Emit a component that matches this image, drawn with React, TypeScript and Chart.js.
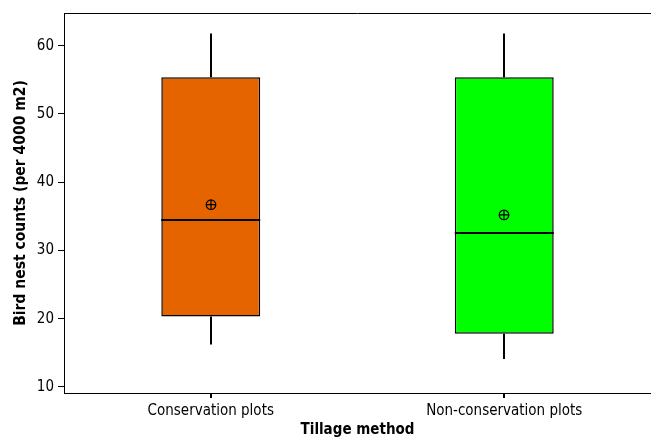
import React, { useEffect, useRef } from "react";
import { Chart, registerables } from "chart.js";

Chart.register(...registerables);

const categories = ["Conservation plots", "Non-conservation plots"];
const whiskerLow = [16.2, 14.1];
const q1 = [20.3, 17.8];
const median = [34.5, 32.6];
const q3 = [55.4, 55.4];
const whiskerHigh = [61.8, 61.8];
const means = [36.7, 35.2];
const boxColors = ["#E66400", "#00FF00"];
const yTicks = [10, 20, 30, 40, 50, 60];

const FONT = "'DejaVu Sans Condensed', 'DejaVu Sans', sans-serif";

const boxPlugin = {
  id: "boxExtras",
  afterDraw(chart: any) {
    const { ctx, scales, chartArea } = chart;
    const xs = scales.x;
    const ys = scales.y;
    const meta = chart.getDatasetMeta(0);
    ctx.save();
    ctx.strokeStyle = "#000";
    ctx.lineWidth = 1;
    ctx.beginPath();
    ctx.moveTo(chartArea.left, chartArea.top + 0.5);
    ctx.lineTo(chartArea.right, chartArea.top + 0.5);
    ctx.stroke();
    categories.forEach((_, i) => {
      const cx = Math.round(xs.getPixelForValue(i));
      const bar = meta.data[i];
      const half = bar.width / 2;
      // x tick mark
      ctx.lineWidth = 2;
      ctx.beginPath();
      ctx.moveTo(cx, chartArea.bottom);
      ctx.lineTo(cx, chartArea.bottom + 5);
      ctx.stroke();
      ctx.beginPath();
      ctx.moveTo(cx, ys.getPixelForValue(whiskerHigh[i]));
      ctx.lineTo(cx, ys.getPixelForValue(q3[i]));
      ctx.moveTo(cx, ys.getPixelForValue(q1[i]));
      ctx.lineTo(cx, ys.getPixelForValue(whiskerLow[i]));
      ctx.stroke();
      const my = Math.round(ys.getPixelForValue(median[i]));
      ctx.beginPath();
      ctx.moveTo(bar.x - half, my);
      ctx.lineTo(bar.x + half, my);
      ctx.stroke();
      const py = ys.getPixelForValue(means[i]);
      ctx.lineWidth = 1.2;
      ctx.beginPath();
      ctx.arc(cx, py, 4.8, 0, Math.PI * 2);
      ctx.moveTo(cx - 5, py);
      ctx.lineTo(cx + 5, py);
      ctx.moveTo(cx, py - 5);
      ctx.lineTo(cx, py + 5);
      ctx.stroke();
    });
    ctx.restore();
  },
};

export default function App() {
  const ref = useRef<HTMLCanvasElement>(null);
  useEffect(() => {
    if (!ref.current) return;
    const chart = new Chart(ref.current, {
      type: "bar",
      data: {
        labels: categories,
        datasets: [
          {
            data: categories.map((_, i) => [q1[i], q3[i]]) as any,
            backgroundColor: boxColors,
            borderColor: "#000",
            borderWidth: 1.5,
            borderSkipped: false,
            barPercentage: 0.337,
            categoryPercentage: 1,
          },
        ],
      },
      options: {
        animation: false,
        responsive: true,
        maintainAspectRatio: false,
        layout: { padding: { top: 13, right: 0, left: 0, bottom: 0 } },
        plugins: { legend: { display: false }, tooltip: { enabled: false } },
        scales: {
          x: {
            grid: { display: false, drawTicks: false },
            border: { display: true, color: "#000", width: 1 },
            ticks: { color: "#000", font: { family: FONT, size: 15 }, padding: 9 },
            title: {
              display: true,
              text: "Tillage method",
              color: "#000",
              font: { family: FONT, size: 15, weight: "bold" },
              padding: { top: 0, bottom: 0 },
            },
            afterFit: (s: any) => {
              s.height = 46;
            },
          },
          y: {
            min: 9.1,
            max: 64.8,
            afterBuildTicks: (s: any) => {
              s.ticks = yTicks.map((v) => ({ value: v }));
            },
            grid: { display: true, drawOnChartArea: false, drawTicks: true, tickLength: 6, color: "#000" },
            border: { color: "#000", width: 1 },
            ticks: { color: "#000", font: { family: FONT, size: 15 }, padding: 4 },
            title: {
              display: true,
              text: "Bird nest counts (per 4000 m2)",
              color: "#000",
              font: { family: FONT, size: 15.5, weight: "bold" },
              padding: { top: 12, bottom: 0 },
            },
            afterFit: (s: any) => {
              s.width = 64;
            },
          },
        },
      },
      plugins: [boxPlugin],
    });
    return () => chart.destroy();
  }, []);
  return (
    <div style={{ position: "fixed", left: 0, top: 0, width: 651, height: 439, background: "#fff" }}>
      <canvas ref={ref} />
    </div>
  );
}
